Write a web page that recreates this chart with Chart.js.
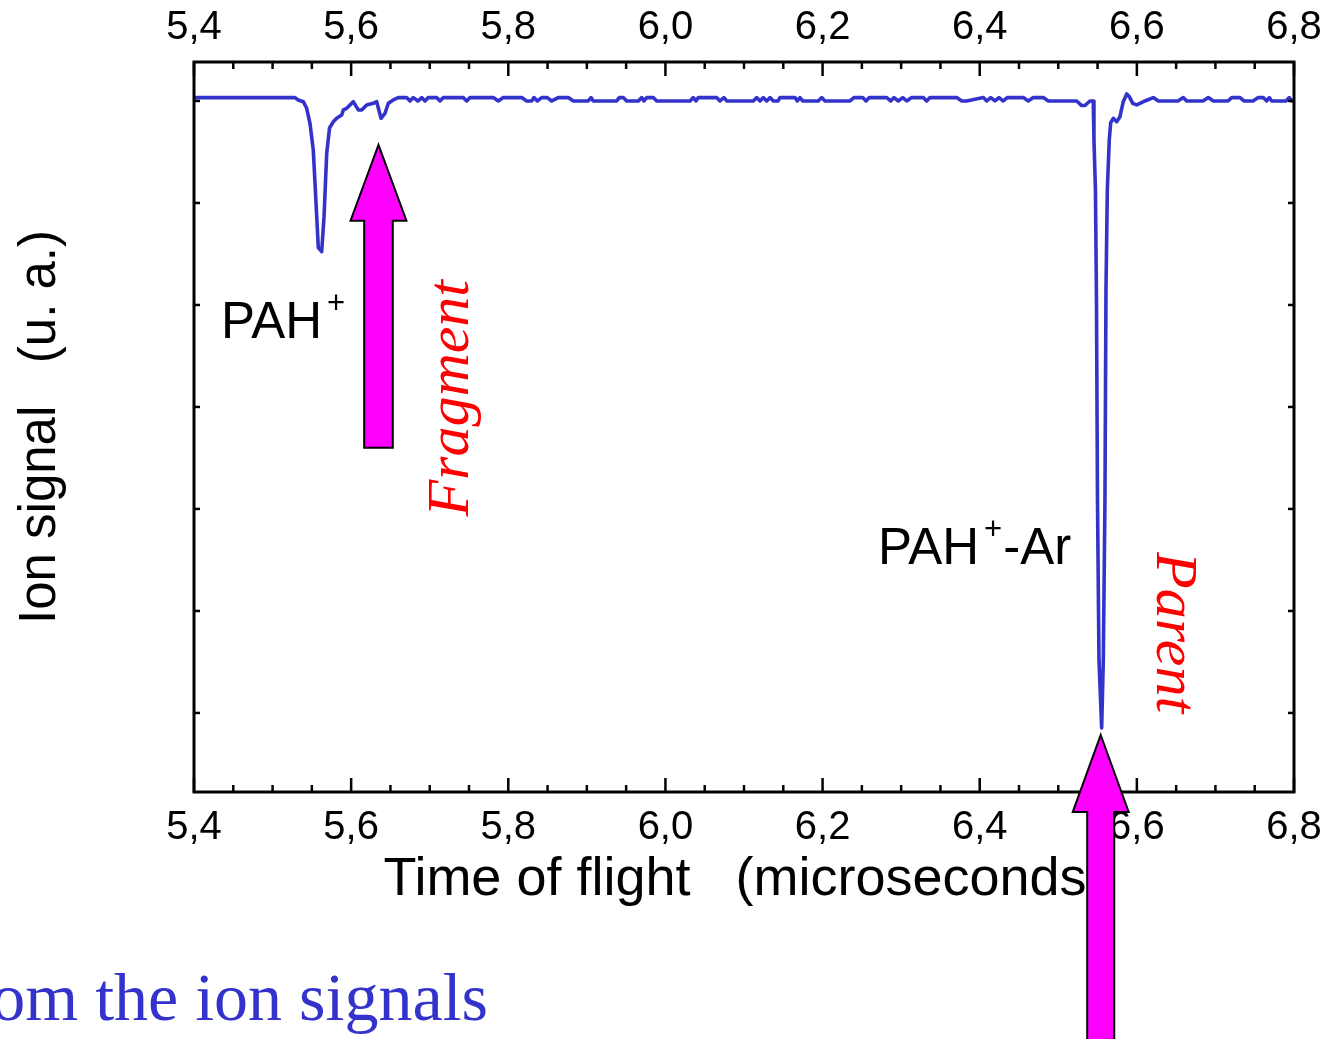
<!DOCTYPE html>
<html>
<head>
<meta charset="utf-8">
<script src="https://cdn.jsdelivr.net/npm/chart.js@4.4.1/dist/chart.umd.min.js"></script>
<style>
html,body{margin:0;padding:0;background:#fff;overflow:hidden}
#wrap{width:1326px;height:1039px;position:relative}
</style>
</head>
<body>
<div id="wrap"><canvas id="c" width="1326" height="1039"></canvas></div>
<script>
// ---- data (time of flight in microseconds, ion signal in arbitrary units) ----
const times = [
  5.4000, 5.5285, 5.5327, 5.5391, 5.5434, 5.5476, 5.5518, 5.5540, 5.5562, 5.5582,
  5.5625, 5.5655, 5.5689, 5.5725, 5.5773, 5.5816, 5.5880, 5.5900, 5.5943, 5.6027,
  5.6091, 5.6134, 5.6198, 5.6282, 5.6325, 5.6380, 5.6431, 5.6473, 5.6536, 5.6600,
  5.6707, 5.6749, 5.6791, 5.6851, 5.6898, 5.6940, 5.6982, 5.7089, 5.7131, 5.7173,
  5.7427, 5.7471, 5.7513, 5.7809, 5.7873, 5.7936, 5.8171, 5.8234, 5.8298, 5.8327,
  5.8369, 5.8425, 5.8496, 5.8553, 5.8636, 5.8764, 5.8827, 5.9018, 5.9053, 5.9082,
  5.9380, 5.9413, 5.9464, 5.9507, 5.9655, 5.9698, 5.9727, 5.9762, 5.9846, 5.9889,
  6.0313, 6.0355, 6.0389, 6.0418, 6.0652, 6.0694, 6.0745, 6.0780, 6.1118, 6.1162,
  6.1204, 6.1246, 6.1289, 6.1331, 6.1373, 6.1433, 6.1458, 6.1649, 6.1678, 6.1713,
  6.1747, 6.1946, 6.1989, 6.2031, 6.2349, 6.2400, 6.2511, 6.2553, 6.2595, 6.2816,
  6.2867, 6.2909, 6.2964, 6.3020, 6.3071, 6.3134, 6.3282, 6.3325, 6.3367, 6.3707,
  6.3771, 6.3834, 6.4046, 6.4089, 6.4140, 6.4194, 6.4245, 6.4300, 6.4351, 6.4555,
  6.4618, 6.4682, 6.4809, 6.4873, 6.5234, 6.5298, 6.5340, 6.5403, 6.5445, 6.5454,
  6.5473, 6.5486, 6.5499, 6.5518, 6.5552, 6.5573, 6.5594, 6.5607, 6.5624, 6.5649,
  6.5667, 6.5700, 6.5743, 6.5785, 6.5827, 6.5871, 6.5904, 6.5947, 6.5998, 6.6040,
  6.6103, 6.6209, 6.6273, 6.6523, 6.6591, 6.6634, 6.6842, 6.6909, 6.6973, 6.7160,
  6.7207, 6.7313, 6.7363, 6.7478, 6.7545, 6.7609, 6.7652, 6.7686, 6.7716, 6.7898,
  6.7940, 6.7971, 6.8000
];
const signal = [
  0.033, 0.033, 0.010, -0.007, -0.072, -0.219, -0.480, -0.804, -1.134, -1.438,
  -1.477, -1.134, -0.513, -0.265, -0.203, -0.170, -0.137, -0.088, -0.072, -0.007,
  -0.088, -0.088, -0.039, -0.023, -0.007, -0.170, -0.121, -0.023, 0.010, 0.033,
  0.033, 0, 0.033, 0, 0.033, 0, 0.033, 0.033, 0, 0.033,
  0.033, 0, 0.033, 0.033, 0, 0.033, 0.033, 0, 0, 0.033,
  0, 0.033, 0.033, 0, 0.033, 0.033, 0, 0, 0.033, 0,
  0, 0.033, 0.033, 0, 0, 0.033, 0, 0.033, 0.033, 0,
  0, 0.033, 0, 0.033, 0.033, 0, 0.033, 0, 0, 0.033,
  0, 0.033, 0, 0.033, 0, 0, 0.033, 0.033, 0, 0.033,
  0, 0, 0.033, 0, 0, 0.033, 0.033, 0, 0.033, 0.033,
  0, 0.033, 0, 0.033, 0, 0.033, 0.033, 0, 0.033, 0.033,
  0, 0, 0.033, 0, 0.033, 0, 0.033, 0, 0.033, 0.033,
  0, 0.033, 0.033, 0, 0, -0.045, -0.045, 0, 0, -0.382,
  -0.873, -1.951, -3.912, -5.480, -6.147, -5.480, -3.912, -1.853, -0.873, -0.382,
  -0.213, -0.170, -0.203, -0.154, -0.007, 0.069, 0.042, -0.023, -0.039, -0.023,
  0, 0.033, 0, 0, 0.033, 0, 0, 0.033, 0, 0,
  0.033, 0.033, 0, 0, 0.033, 0.033, 0, 0.033, 0, 0,
  0.033, 0, 0
];

// ---- axes ----
const xMin = 5.4, xMax = 6.8, xMinorStep = 0.05;
const xTickValues = [5.4, 5.6, 5.8, 6.0, 6.2, 6.4, 6.6, 6.8];
const xTickLabels = ['5,4', '5,6', '5,8', '6,0', '6,2', '6,4', '6,6', '6,8'];
const yMin = -6.775, yMax = 0.382;
const yTickValues = [0, -1, -2, -3, -4, -5, -6];
const xTitle = 'Time of flight   (microseconds)';
const yTitle = 'Ion signal   (u. a.)';

// ---- annotations (data coordinates) ----
const ionLabels = [
  { main: 'PAH', sup: '+', rest: '', x: 5.4344, y: -2.324 },
  { main: 'PAH', sup: '+', rest: '-Ar', x: 6.2705, y: -4.539 }
];
const sideLabels = [
  { text: 'Fragment', x: 5.7487, y: -4.075, angle: -90 },
  { text: 'Parent', x: 6.6256, y: -4.422, angle: 90 }
];
const arrows = [
  { x: 5.6348, tip: -0.431, head: -1.174, tail: -3.40, headHalf: 0.0356, shaftHalf: 0.0182 },
  { x: 6.5540, tip: -6.216, head: -6.970, tail: -9.60, headHalf: 0.0356, shaftHalf: 0.0172 }
];
const footerText = 'om the ion signals';

const lineColor = 'rgb(51,51,204)';
Chart.defaults.font.family = '"Liberation Sans", Arial, sans-serif';
Chart.defaults.color = '#000';

const setXTicks = s => { s.ticks = xTickValues.map(v => ({ value: v })); };
const xLabel = v => { const i = xTickValues.findIndex(t => Math.abs(t - v) < 1e-6); return i >= 0 ? xTickLabels[i] : ''; };

const overlay = {
  id: 'overlay',
  afterDraw(chart) {
    const { ctx, chartArea: a, scales } = chart;
    const xs = scales.x, ys = scales.y;
    ctx.save();
    ctx.strokeStyle = '#000';
    ctx.lineCap = 'butt';
    const seg = (x1, y1, x2, y2) => { ctx.beginPath(); ctx.moveTo(x1, y1); ctx.lineTo(x2, y2); ctx.stroke(); };
    // inward tick marks
    ctx.lineWidth = 2.5;
    for (let k = 0; ; k++) {
      const v = xMin + k * xMinorStep;
      if (v > xMax + 1e-9) break;
      const px = xs.getPixelForValue(v);
      const major = xTickValues.some(t => Math.abs(t - v) < 1e-6);
      const len = major ? 14 : 7;
      seg(px, a.bottom, px, a.bottom - len);
      seg(px, a.top, px, a.top + len);
    }
    for (const v of yTickValues) {
      const py = ys.getPixelForValue(v);
      seg(a.left, py, a.left + 6, py);
      seg(a.right, py, a.right - 6, py);
    }
    // frame
    ctx.lineWidth = 3;
    ctx.strokeRect(a.left, a.top, a.right - a.left, a.bottom - a.top);

    // ion labels
    ctx.fillStyle = '#000';
    ctx.textBaseline = 'alphabetic';
    ctx.textAlign = 'left';
    for (const l of ionLabels) {
      let px = xs.getPixelForValue(l.x);
      const py = ys.getPixelForValue(l.y);
      ctx.font = '51px "Liberation Sans", Arial, sans-serif';
      ctx.fillText(l.main, px, py);
      px += ctx.measureText(l.main).width + 5;
      ctx.font = '31px "Liberation Sans", Arial, sans-serif';
      ctx.fillText(l.sup, px, py - 25);
      px += ctx.measureText(l.sup).width + 1;
      if (l.rest) {
        ctx.font = '51px "Liberation Sans", Arial, sans-serif';
        ctx.fillText(l.rest, px, py);
      }
    }
    // rotated red labels
    ctx.fillStyle = '#ff0000';
    ctx.font = 'italic 60px "Liberation Serif", "Times New Roman", serif';
    for (const s of sideLabels) {
      ctx.save();
      ctx.translate(xs.getPixelForValue(s.x), ys.getPixelForValue(s.y));
      ctx.rotate(s.angle * Math.PI / 180);
      ctx.textAlign = 'left';
      ctx.textBaseline = 'alphabetic';
      ctx.fillText(s.text, 0, 0);
      ctx.restore();
    }
    // arrows
    ctx.fillStyle = '#ff00ff';
    ctx.strokeStyle = '#000';
    ctx.lineWidth = 2;
    ctx.lineJoin = 'miter';
    for (const ar of arrows) {
      const cx = xs.getPixelForValue(ar.x);
      const hw = xs.getPixelForValue(ar.x + ar.headHalf) - cx;
      const sw = xs.getPixelForValue(ar.x + ar.shaftHalf) - cx;
      const ty = ys.getPixelForValue(ar.tip);
      const hy = ys.getPixelForValue(ar.head);
      const by = ys.getPixelForValue(ar.tail);
      ctx.beginPath();
      ctx.moveTo(cx, ty);
      ctx.lineTo(cx + hw, hy);
      ctx.lineTo(cx + sw, hy);
      ctx.lineTo(cx + sw, by);
      ctx.lineTo(cx - sw, by);
      ctx.lineTo(cx - sw, hy);
      ctx.lineTo(cx - hw, hy);
      ctx.closePath();
      ctx.fill();
      ctx.stroke();
    }
    // footer text (slide caption, cropped at left)
    ctx.fillStyle = '#3333cc';
    ctx.font = '68px "Liberation Serif", "Times New Roman", serif';
    ctx.textAlign = 'right';
    ctx.textBaseline = 'alphabetic';
    ctx.fillText(footerText, 488, 1020);
    ctx.restore();
  }
};

new Chart(document.getElementById('c'), {
  type: 'line',
  data: {
    datasets: [{
      data: times.map((t, i) => ({ x: t, y: signal[i] })),
      borderColor: lineColor,
      borderWidth: 3.6,
      pointRadius: 0,
      tension: 0,
      fill: false,
      borderJoinStyle: 'round',
      borderCapStyle: 'round'
    }]
  },
  options: {
    responsive: false,
    animation: false,
    devicePixelRatio: 1,
    layout: { padding: 0 },
    plugins: { legend: { display: false }, tooltip: { enabled: false } },
    scales: {
      x: {
        type: 'linear', position: 'bottom', min: xMin, max: xMax,
        afterBuildTicks: setXTicks,
        afterFit: s => { s.height = 247; s.paddingLeft = 0; s.paddingRight = 0; },
        grid: { display: false, drawTicks: false },
        border: { display: false },
        ticks: { callback: xLabel, font: { size: 40 }, padding: 12, maxRotation: 0, autoSkip: false, color: '#000' },
        title: { display: true, text: xTitle, font: { size: 54 }, color: '#000', padding: { top: 0, bottom: 126 } }
      },
      x2: {
        type: 'linear', position: 'top', min: xMin, max: xMax,
        afterBuildTicks: setXTicks,
        afterFit: s => { s.height = 62; s.paddingLeft = 0; s.paddingRight = 0; },
        grid: { display: false, drawTicks: false },
        border: { display: false },
        ticks: { callback: xLabel, font: { size: 40 }, padding: 10, maxRotation: 0, autoSkip: false, color: '#000' }
      },
      y: {
        type: 'linear', position: 'left', min: yMin, max: yMax,
        afterFit: s => { s.width = 194; },
        grid: { display: false, drawTicks: false },
        border: { display: false },
        ticks: { display: false },
        title: { display: true, text: yTitle, font: { size: 51 }, color: '#000', padding: { top: 10, bottom: 0 } }
      },
      y2: {
        type: 'linear', position: 'right', min: yMin, max: yMax,
        afterFit: s => { s.width = 32; },
        grid: { display: false, drawTicks: false },
        border: { display: false },
        ticks: { display: false }
      }
    }
  },
  plugins: [overlay]
});
</script>
</body>
</html>
